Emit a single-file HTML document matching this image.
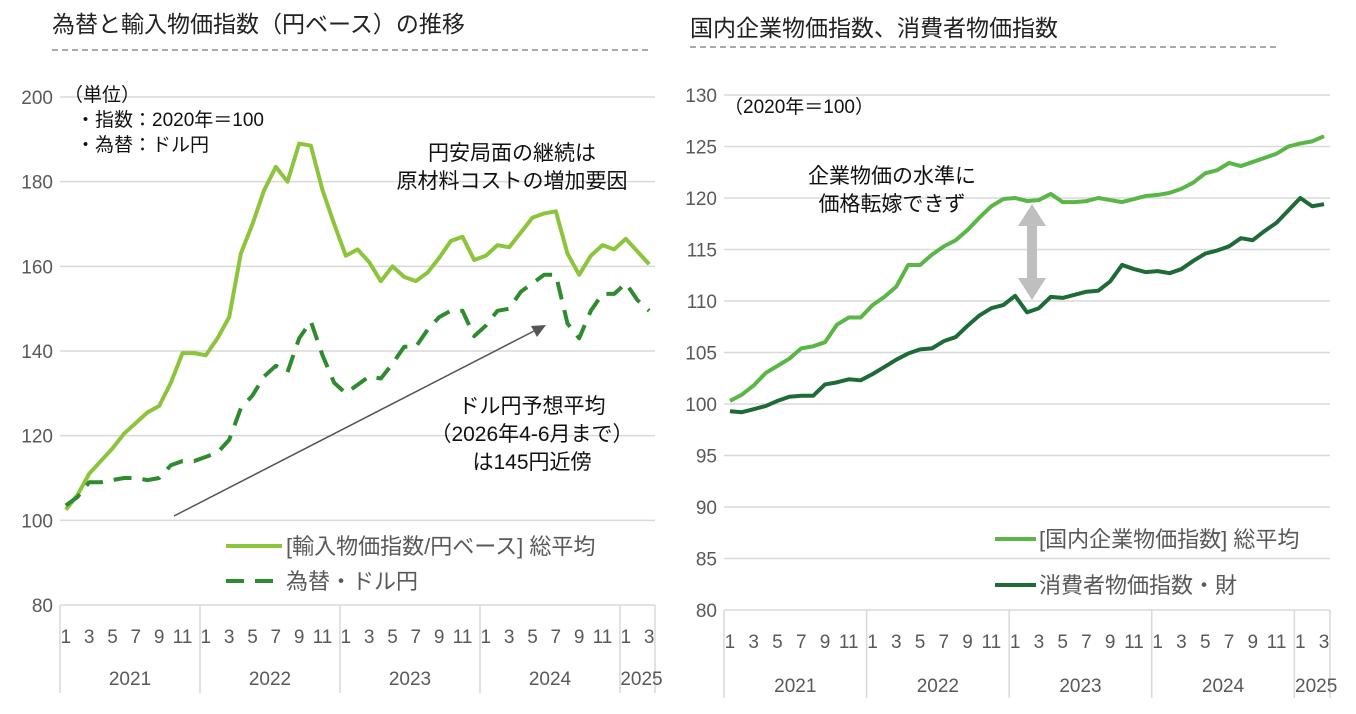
<!DOCTYPE html><html><head><meta charset="utf-8"><style>
body{margin:0;background:#fff;}
svg text{font-family:"Liberation Sans","Noto Sans CJK JP",sans-serif;}
</style></head><body>
<svg id="s" width="1356" height="709" xmlns="http://www.w3.org/2000/svg">
<text x="52" y="32" font-size="23" fill="#222">為替と輸入物価指数（円ベース）の推移</text>
<line x1="52" y1="50" x2="648" y2="50" stroke="#777" stroke-dasharray="6,4" stroke-width="1.2"/>
<text x="690" y="36" font-size="23" fill="#222">国内企業物価指数、消費者物価指数</text>
<line x1="690" y1="47" x2="1280" y2="47" stroke="#777" stroke-dasharray="6,4" stroke-width="1.2"/>
<g id="g"></g>
</svg>
<script>
const NS="http://www.w3.org/2000/svg",g=document.getElementById('g');
function el(t,a,txt){const e=document.createElementNS(NS,t);for(const k in a)e.setAttribute(k,a[k]);if(txt!=null)e.textContent=txt;g.appendChild(e);return e;}
function chart(o){
 const {x0,x1,yTop,yBot,vmin,vmax,step,ml,yl}=o;
 const Y=v=>yBot-(v-vmin)/(vmax-vmin)*(yBot-yTop);
 const mw=(x1-x0)/51, X=i=>x0+(i+0.5)*mw;
 for(let v=vmin;v<=vmax;v+=step){
  if(v>vmin) el('line',{x1:x0,x2:x1,y1:Y(v),y2:Y(v),stroke:'#d9d9d9','stroke-width':1.5});
  el('text',{x:x0-7,y:Y(v)+7,'font-size':19,fill:'#595959','text-anchor':'end'},v);
 }
 el('line',{x1:x0,x2:x1,y1:yBot,y2:yBot,stroke:'#d9d9d9','stroke-width':1.5});
 for(let y=0;y<=5;y++){const xx=y<5?x0+y*12*mw:x1;el('line',{x1:xx,x2:xx,y1:yBot,y2:yBot+88,stroke:'#d9d9d9','stroke-width':1.5});}
 const years=['2021','2022','2023','2024','2025'];
 for(let y=0;y<5;y++){
  const n=y<4?12:3;
  el('text',{x:(X(y*12)+X(y*12+n-1))/2+(y==4?4:0),y:yBot+ yl,'font-size':19,fill:'#595959','text-anchor':'middle'},years[y]);
  for(let m=0;m<n;m+=2) el('text',{x:X(y*12+m),y:yBot+ml,'font-size':19,fill:'#595959','text-anchor':'middle'},m+1);
 }
 return {X,Y};
}
function line(c,d,col,w,dash){el('polyline',{points:d.map((v,i)=>c.X(i)+','+c.Y(v)).join(' '),fill:'none',stroke:col,'stroke-width':w,'stroke-linejoin':'round','stroke-dasharray':dash||'none'});}
const L=chart({x0:60,x1:655,yTop:97,yBot:605,vmin:80,vmax:200,step:20,ml:38,yl:80});
const imp=[102.5,106,111,114,117,120.5,123,125.5,127,132.5,139.5,139.5,139,143,148,163,170,178,183.5,180,189,188.5,178,170,162.5,164,161,156.5,160,157.5,156.5,158.5,162,166,167,161.5,162.5,165,164.5,168,171.5,172.5,173,163,158,162.5,165,164,166.5,163.5,160.5];
const fx=[103.5,105.5,109,109,109.5,110,110,109.5,110,113,114,114,115,116,119,126.5,129.5,134,136.5,135,143,147,139,132.5,130,132,134,133.5,137,141,141,145,148,149.5,149.5,143.5,146,149.5,150,154,156,158,158,146.5,143,149.5,153.5,153.5,156,152,149.5];
el('line',{x1:174,y1:516,x2:536,y2:330,stroke:'#555','stroke-width':1.5});
el('polygon',{points:'546,325 531,326 537,337',fill:'#555'});
line(L,imp,'#8cc43c',4);
line(L,fx,'#2e8b2e',4,'18,11');
const t=(x,y,s,txt,a,c)=>el('text',{x,y,'font-size':s,fill:c||'#111','text-anchor':a||'start'},txt);
t(64,101,19,'（単位）');t(76,126,19,'・指数：2020年＝100');t(76,151,19,'・為替：ドル円');
t(512,160,21,'円安局面の継続は','middle');t(512,188,21,'原材料コストの増加要因','middle');
t(532,413,21,'ドル円予想平均','middle');t(532,441,21,'（2026年4-6月まで）','middle');t(532,469,21,'は145円近傍','middle');
el('line',{x1:226,x2:282,y1:546,y2:546,stroke:'#8cc43c','stroke-width':4});
t(286,554,22,'[輸入物価指数/円ベース] 総平均','start','#595959');
el('line',{x1:226,x2:282,y1:581,y2:581,stroke:'#2e8b2e','stroke-width':4,'stroke-dasharray':'18,11'});
t(286,589,22,'為替・ドル円','start','#595959');
const R=chart({x0:724,x1:1330,yTop:95,yBot:610,vmin:80,vmax:130,step:5,ml:38,yl:82});
const cg=[100.3,100.9,101.8,103,103.7,104.4,105.4,105.6,106,107.7,108.4,108.4,109.6,110.4,111.4,113.5,113.5,114.5,115.3,115.9,116.9,118.1,119.2,119.9,120,119.7,119.8,120.4,119.6,119.6,119.7,120,119.8,119.6,119.9,120.2,120.3,120.5,120.9,121.5,122.4,122.7,123.4,123.1,123.5,123.9,124.3,125,125.3,125.5,126];
const cp=[99.3,99.2,99.5,99.8,100.3,100.7,100.8,100.8,101.9,102.1,102.4,102.3,102.9,103.6,104.3,104.9,105.3,105.4,106.1,106.5,107.6,108.6,109.3,109.6,110.5,108.9,109.3,110.4,110.3,110.6,110.9,111,111.9,113.5,113.1,112.8,112.9,112.7,113.1,113.9,114.6,114.9,115.3,116.1,115.9,116.8,117.6,118.8,120,119.2,119.4];
line(R,cg,'#5ab646',4);line(R,cp,'#1e6b37',4);
el('polygon',{points:'1032,204 1046,226 1037,226 1037,278 1046,278 1032,300 1018,278 1027,278 1027,226 1018,226',fill:'#bfbfbf'});
t(724,113,19,'（2020年＝100）');
t(892,183,21,'企業物価の水準に','middle');t(892,211,21,'価格転嫁できず','middle');
el('line',{x1:995,x2:1036,y1:539,y2:539,stroke:'#5ab646','stroke-width':4});
t(1039,547,22,'[国内企業物価指数] 総平均','start','#595959');
el('line',{x1:995,x2:1036,y1:585,y2:585,stroke:'#1e6b37','stroke-width':4});
t(1039,593,22,'消費者物価指数・財','start','#595959');
</script></body></html>
